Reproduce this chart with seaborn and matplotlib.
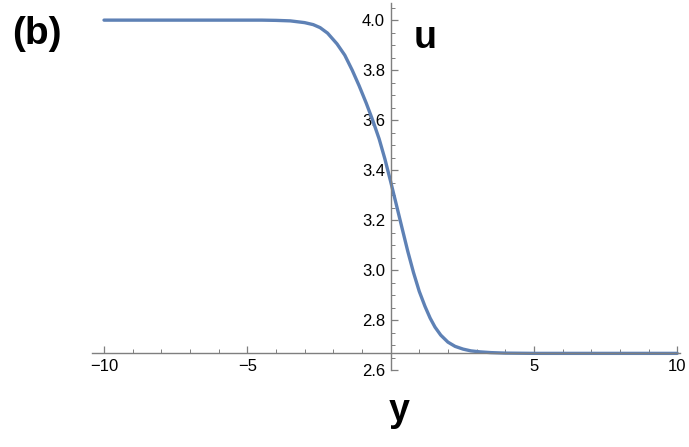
import numpy as np
import matplotlib
matplotlib.use("Agg")
import matplotlib.pyplot as plt
import seaborn as sns
from matplotlib.ticker import MultipleLocator, FixedLocator

sns.set_theme(style="white")
plt.rcParams['font.family'] = ['Liberation Sans', 'DejaVu Sans']
plt.rcParams['text.color'] = 'black'

# profile u(y)
y_vals = [-10, -8, -6, -5, -4.5, -4, -3.5, -3.0, -2.7, -2.46, -2.2, -1.87, -1.6, -1.34,
          -1.1, -0.85, -0.62, -0.40, -0.20, 0.0, 0.2, 0.4, 0.6, 0.8, 1.0, 1.2,
          1.38, 1.55, 1.75, 2.0, 2.25, 2.53, 2.8, 3.12, 3.5, 4.0, 5, 6, 8, 10]
u_vals = [4.0, 4.0, 4.0, 4.0, 4.0, 3.999, 3.997, 3.99, 3.982, 3.970, 3.948, 3.905, 3.860, 3.800,
          3.738, 3.668, 3.598, 3.525, 3.445, 3.355, 3.262, 3.168, 3.075, 2.990, 2.915, 2.855,
          2.808, 2.772, 2.740, 2.712, 2.695, 2.684, 2.677, 2.673, 2.670, 2.668, 2.667, 2.667, 2.667, 2.667]
x_ticks = [-10, -5, 5, 10]
x_labels = ["\u221210", "\u22125", "5", "10"]
u_ticks = [2.6, 2.8, 3.0, 3.2, 3.4, 3.6, 3.8, 4.0]
u_labels = ["2.6", "2.8", "3.0", "3.2", "3.4", "3.6", "3.8", "4.0"]

fig = plt.figure(figsize=(6.89, 4.47), dpi=100)
ax = fig.add_axes([0.1335, 0.172, 0.8535, 0.821])

sns.lineplot(x=y_vals, y=u_vals, ax=ax, color="#5E81B5", linewidth=2.4)

ax.set_xlim(-10.42, 10.1)
ax.set_ylim(2.6, 4.068)

ax.spines['left'].set_position(('data', 0))
ax.spines['bottom'].set_position(('data', 8 / 3))
for s in ['top', 'right']:
    ax.spines[s].set_visible(False)
for s in ['left', 'bottom']:
    ax.spines[s].set_color("#7f7f7f")
    ax.spines[s].set_linewidth(1.0)

ax.xaxis.set_major_locator(FixedLocator(x_ticks))
ax.set_xticklabels(x_labels)
ax.xaxis.set_minor_locator(MultipleLocator(1))
ax.yaxis.set_major_locator(FixedLocator(u_ticks))
ax.set_yticklabels(u_labels)
ax.yaxis.set_minor_locator(MultipleLocator(0.05))

ax.tick_params(axis='both', which='major', direction='in', length=5, width=0.9,
               color="#7f7f7f", labelsize=12, labelcolor="black")
ax.tick_params(axis='both', which='minor', direction='in', length=3, width=0.7,
               color="#7f7f7f")
ax.tick_params(axis='x', which='both', bottom=True, pad=4)
ax.tick_params(axis='y', which='both', left=True, pad=4)
ax.set_xlabel("")
ax.set_ylabel("")
ax.grid(False)

fig.text(0.054, 0.924, "(b)", fontsize=28, fontweight='bold', ha='center', va='center', color='black')
fig.text(0.617, 0.915, "u", fontsize=27, fontweight='bold', ha='center', va='center', color='black')
fig.text(0.579, 0.080, "y", fontsize=27, fontweight='bold', ha='center', va='center', color='black')

fig.savefig("out.png", dpi=100)
